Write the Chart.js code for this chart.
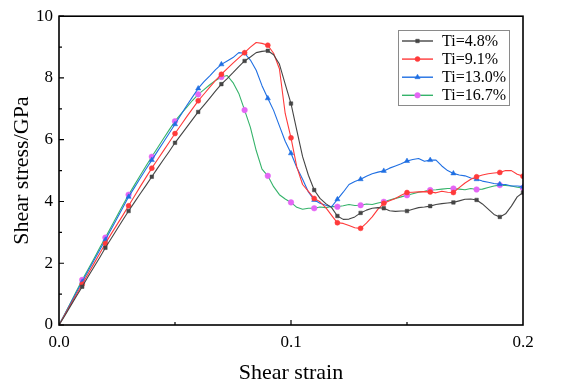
<!DOCTYPE html>
<html><head><meta charset="utf-8">
<script src="https://cdn.jsdelivr.net/npm/chart.js@4/dist/chart.umd.min.js"></script>
<style>html,body{margin:0;padding:0;background:#fff}</style>
</head><body>
<canvas id="c" width="561" height="390" style="width:561px;height:390px;display:block"></canvas>
<script>
// Shear strain grid (x values)
const strain = [0,0.0025,0.005,0.0075,0.01,0.0125,0.015,0.0175,0.02,0.0225,0.025,0.0275,0.03,0.0325,0.035,0.0375,0.04,0.0425,0.045,0.0475,0.05,0.0525,0.055,0.0575,0.06,0.0625,0.065,0.0675,0.07,0.0725,0.075,0.0775,0.08,0.0825,0.085,0.0875,0.09,0.0925,0.095,0.0975,0.1,0.1025,0.105,0.1075,0.11,0.1125,0.115,0.1175,0.12,0.1225,0.125,0.1275,0.13,0.1325,0.135,0.1375,0.14,0.1425,0.145,0.1475,0.15,0.1525,0.155,0.1575,0.16,0.1625,0.165,0.1675,0.17,0.1725,0.175,0.1775,0.18,0.1825,0.185,0.1875,0.19,0.1925,0.195,0.1975,0.2];

const ti48 = [0,0.3,0.62,0.93,1.24,1.56,1.87,2.18,2.50,2.8,3.1,3.4,3.69,3.97,4.25,4.52,4.80,5.08,5.35,5.62,5.90,6.15,6.4,6.65,6.9,7.12,7.35,7.58,7.8,7.98,8.17,8.37,8.55,8.68,8.82,8.86,8.88,8.75,8.45,7.8,7.17,6.3,5.45,4.85,4.37,4.1,3.93,3.8,3.53,3.42,3.43,3.5,3.63,3.72,3.78,3.8,3.78,3.7,3.68,3.69,3.69,3.75,3.8,3.82,3.85,3.9,3.93,3.95,3.97,4.02,4.07,4.08,4.05,3.92,3.75,3.58,3.5,3.6,3.85,4.15,4.29];

const ti91 = [0,0.33,0.66,0.99,1.32,1.65,1.98,2.31,2.64,2.95,3.25,3.55,3.86,4.17,4.48,4.78,5.08,5.36,5.64,5.92,6.2,6.47,6.74,7.0,7.26,7.48,7.7,7.92,8.12,8.3,8.48,8.65,8.82,9.0,9.15,9.12,9.06,8.8,8.3,6.85,6.06,5.12,4.55,4.33,4.1,3.99,3.8,3.55,3.31,3.29,3.22,3.15,3.13,3.3,3.5,3.75,3.94,4.02,4.1,4.2,4.29,4.3,4.31,4.32,4.31,4.28,4.33,4.3,4.29,4.45,4.6,4.72,4.8,4.86,4.9,4.92,4.94,5.0,5.0,4.88,4.82];

const ti130 = [0,0.35,0.7,1.05,1.4,1.74,2.08,2.42,2.76,3.1,3.45,3.8,4.15,4.45,4.75,5.05,5.34,5.63,5.92,6.21,6.5,6.8,7.1,7.38,7.66,7.88,8.07,8.27,8.44,8.55,8.66,8.82,8.8,8.58,8.25,7.75,7.34,6.95,6.45,5.95,5.56,5.1,4.72,4.31,4.05,3.94,3.88,3.83,4.07,4.3,4.55,4.65,4.72,4.82,4.9,4.95,4.99,5.08,5.15,5.22,5.31,5.36,5.39,5.3,5.34,5.34,5.15,5.0,4.91,4.86,4.83,4.76,4.72,4.66,4.62,4.58,4.56,4.55,4.5,4.5,4.48];

const ti167 = [0,0.36,0.72,1.09,1.46,1.8,2.14,2.49,2.83,3.18,3.53,3.88,4.22,4.53,4.84,5.15,5.45,5.74,6.03,6.32,6.6,6.83,7.05,7.27,7.47,7.62,7.78,7.92,8.03,8.08,7.85,7.5,6.96,6.4,5.65,5.05,4.83,4.48,4.22,4.08,3.97,3.81,3.75,3.78,3.78,3.82,3.8,3.84,3.83,3.86,3.9,3.87,3.88,3.92,3.9,3.95,3.99,4.05,4.1,4.15,4.2,4.25,4.3,4.33,4.37,4.38,4.4,4.42,4.42,4.4,4.38,4.42,4.39,4.4,4.45,4.5,4.53,4.52,4.5,4.46,4.44];

const seriesLabels = ['Ti=4.8%','Ti=9.1%','Ti=13.0%','Ti=16.7%'];
const xTickLabels = ['0.0','0.1','0.2'];
const yTickLabels = ['0','2','4','6','8','10'];

const SERIF = "'Liberation Serif','Times New Roman',serif";
function pts(arr){ return strain.map((x,i)=>({x:x,y:arr[i]})); }
function markerRadius(r){ return ctx => { const k = Math.round(ctx.raw.x*1000); return (k>0 && k%10===0) ? r : 0; }; }

const styles = [
  {line:'#454545', pt:'#454545', shape:'rect', r:2.5},
  {line:'#ff3a3a', pt:'#ff3a3a', shape:'circle', r:2.5},
  {line:'#1f6fe3', pt:'#1f6fe3', shape:'triangle', r:3},
  {line:'#35b36a', pt:'#e466f5', shape:'circle', r:2.8}
];
const values = [ti48, ti91, ti130, ti167];

const datasets = values.map((v,i)=>({
  label: seriesLabels[i],
  data: pts(v),
  borderColor: styles[i].line,
  backgroundColor: styles[i].pt,
  pointBorderColor: styles[i].pt,
  pointBackgroundColor: styles[i].pt,
  pointStyle: styles[i].shape,
  pointRadius: markerRadius(styles[i].r),
  pointHoverRadius: 0,
  borderWidth: 1.1,
  pointBorderWidth: 0.5,
  tension: 0,
  fill: false
}));

const framePlugin = {
  id: 'frame',
  afterDatasetsDraw(chart){
    const c = chart.ctx, a = chart.chartArea;
    const xs = chart.scales.x, ys = chart.scales.y;
    c.save();
    c.strokeStyle = '#000';
    c.lineWidth = 1.6;
    c.strokeRect(a.left, a.top, a.right-a.left, a.bottom-a.top);
    c.lineWidth = 1.2;
    c.beginPath();
    for (let v=0; v<=10; v++){
      const y = ys.getPixelForValue(v);
      const len = (v%2===0) ? 5 : 3;
      c.moveTo(a.left, y); c.lineTo(a.left+len, y);
    }
    [0.05,0.1,0.15].forEach(v=>{
      const x = xs.getPixelForValue(v);
      const len = (Math.abs(v-0.1)<1e-9) ? 5 : 3;
      c.moveTo(x, a.bottom); c.lineTo(x, a.bottom-len);
    });
    c.stroke();
    // legend
    const bx=398, by=30, bw=111, bh=75;
    c.fillStyle='#fff';
    c.fillRect(bx,by,bw,bh);
    c.strokeStyle='#8a8a8a'; c.lineWidth=1;
    c.strokeRect(bx+0.5,by+0.5,bw,bh);
    chart.data.datasets.forEach((ds,i)=>{
      const y = 41 + i*18.1;
      c.strokeStyle = ds.borderColor; c.lineWidth=1.4;
      c.beginPath(); c.moveTo(402,y); c.lineTo(433,y); c.stroke();
      c.fillStyle = ds.pointBackgroundColor; c.strokeStyle = ds.pointBorderColor; c.lineWidth=0.5;
      Chart.helpers.drawPoint(c, {pointStyle: ds.pointStyle, radius: styles[i].r, rotation:0, borderWidth:0.5}, 417.5, y);
      c.fillStyle='#000'; c.font = '16px '+SERIF; c.textBaseline='middle'; c.textAlign='left';
      c.fillText(ds.label, 442, y+0.5);
    });
    c.restore();
  }
};

new Chart(document.getElementById('c'), {
  type: 'line',
  data: { datasets },
  options: {
    responsive: false,
    animation: false,
    devicePixelRatio: 1,
    layout: { padding: { top: 16, right: 38, left: 0, bottom: 0 } },
    plugins: { legend: { display: false }, tooltip: { enabled: false } },
    elements: { line: { borderJoinStyle: 'round' } },
    scales: {
      x: {
        type: 'linear', min: 0, max: 0.2,
        grid: { display: false, drawTicks: false },
        border: { display: false },
        ticks: { stepSize: 0.1, padding: 7, color: '#000', font: { family: SERIF, size: 17 },
          callback: (v)=>{ const i = Math.round(v*10); return xTickLabels[i] !== undefined && Math.abs(v*10-i)<1e-6 ? xTickLabels[i] : ''; } },
        title: { display: true, text: 'Shear strain', color: '#000', font: { family: SERIF, size: 22 }, padding: { top: 0, bottom: 4 } },
        afterFit: s => { s.height = 65; }
      },
      y: {
        min: 0, max: 10,
        grid: { display: false, drawTicks: false },
        border: { display: false },
        ticks: { stepSize: 2, padding: 6, color: '#000', font: { family: SERIF, size: 17 },
          callback: (v)=>{ const i = Math.round(v/2); return yTickLabels[i] !== undefined ? yTickLabels[i] : ''; } },
        title: { display: true, text: 'Shear stress/GPa', color: '#000', font: { family: SERIF, size: 22 }, padding: { top: 9, bottom: 0 } },
        afterFit: s => { s.width = 59; }
      }
    }
  },
  plugins: [framePlugin]
});
</script>
</body></html>
